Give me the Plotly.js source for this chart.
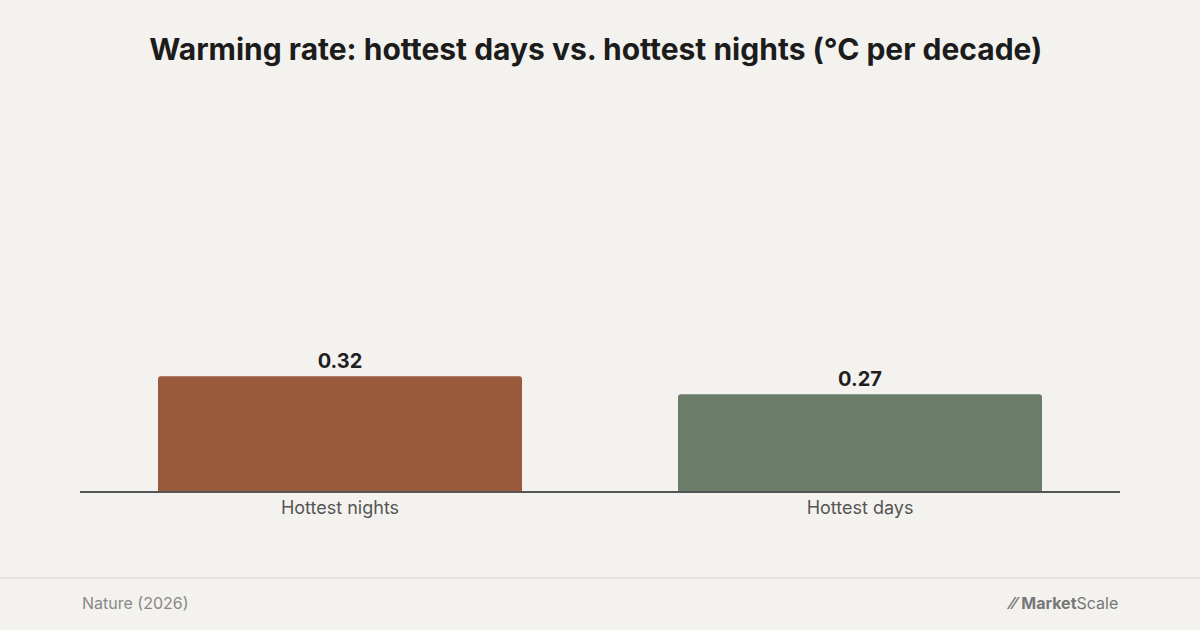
<!DOCTYPE html>
<html>
<head>
<meta charset="utf-8">
<script src="https://cdn.plot.ly/plotly-3.0.1.min.js"></script>
<style>
  body { margin: 0; background: #f4f2ee; }
  #chart { width: 1200px; height: 630px; }
</style>
</head>
<body>
<div id="chart"></div>
<script>
var categories = ["Hottest nights", "Hottest days"];
var rates = [0.32, 0.27];
var barColors = ["#9a5a3c", "#6b7c69"];

var data = [{
    type: 'bar',
    x: categories,
    y: rates,
    marker: { color: barColors },
    text: rates.map(v => v.toFixed(2)),
    textposition: 'outside',
    textfont: { family: 'Inter', size: 20, color: '#1f1f1f', weight: 700 },
    cliponaxis: false,
    hoverinfo: 'none'
}];

var layout = {
    width: 1200,
    height: 630,
    paper_bgcolor: '#f4f2ee',
    plot_bgcolor: '#f4f2ee',
    font: { family: 'Inter', color: '#555' },
    title: {
        text: '<b>Warming rate: hottest days vs. hottest nights (°C per decade)</b>',
        x: 80, xref: 'paper', xanchor: 'left',
        y: 0.922, yanchor: 'middle',
        font: { family: 'Inter', size: 30, color: '#1c1c1c' }
    },
    margin: { l: 80, r: 80, t: 100, b: 139 },
    bargap: 0.3,
    barcornerradius: 3,
    showlegend: false,
    xaxis: {
        showline: true, linecolor: '#555', linewidth: 1.5,
        tickfont: { size: 18, color: '#555' },
        ticks: '', fixedrange: true
    },
    yaxis: {
        range: [0, 1.09], visible: false, showgrid: false, zeroline: false
    },
    shapes: [{
        type: 'line', xref: 'paper', yref: 'paper',
        x0: -80 / 1040, x1: 1120 / 1040, y0: -87 / 391, y1: -87 / 391,
        line: { color: '#e2dfd9', width: 1.5 }
    }],
    annotations: [{
        text: 'Nature (2026)', xref: 'paper', yref: 'paper',
        x: 0, y: -112 / 391, xanchor: 'left', yanchor: 'middle', showarrow: false,
        font: { size: 16, color: '#888' }
    }, {
        text: '<b>⁄⁄</b> <b>Market</b>Scale', xref: 'paper', yref: 'paper',
        x: 1, y: -112 / 391, xanchor: 'right', yanchor: 'middle', showarrow: false,
        font: { size: 16, color: '#777' }
    }]
};
layout.title.x = 80 / 1200;

Plotly.newPlot('chart', data, layout, { displayModeBar: false, staticPlot: true });
</script>
</body>
</html>
